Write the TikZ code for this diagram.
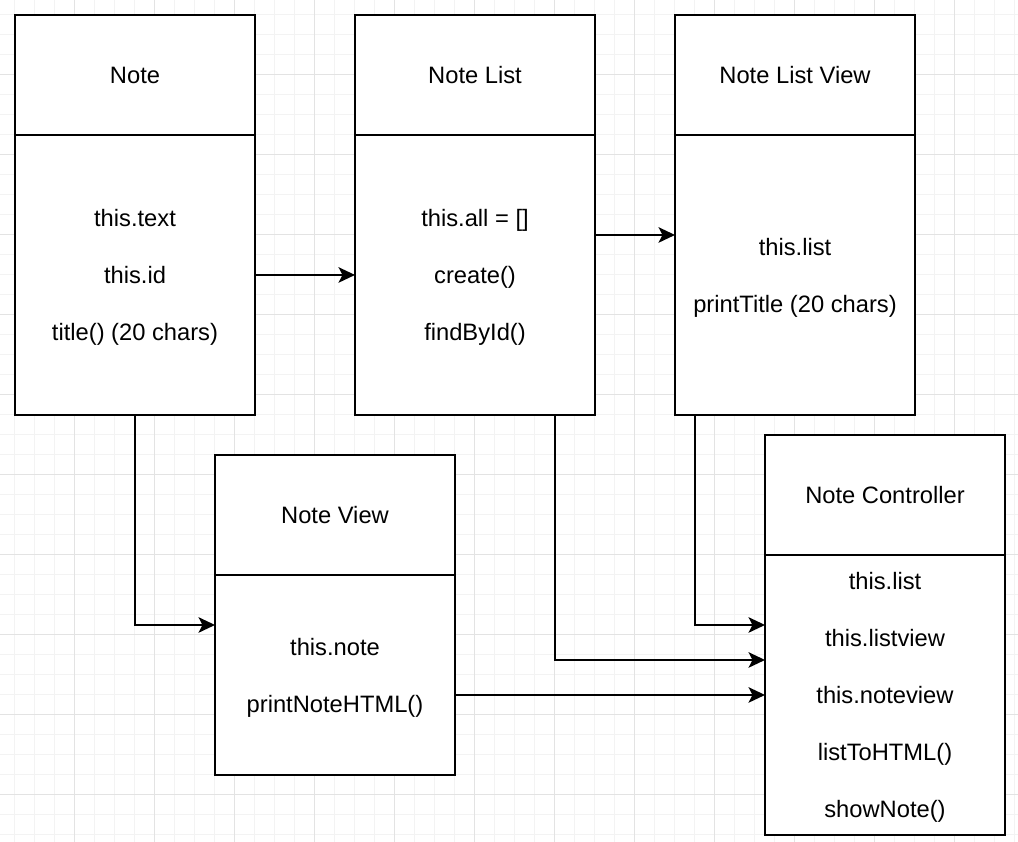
\documentclass[tikz,border=0pt]{standalone}
\usepackage{fontspec}
\setmainfont{Liberation Sans}
\usepackage{xcolor}
\usepackage{tikz}
\usetikzlibrary{arrows.meta,positioning}
\definecolor{ntInk}{HTML}{000000}
\definecolor{ntGridMinor}{HTML}{F3F3F3}
\definecolor{ntGridMajor}{HTML}{E3E3E3}
\tikzset{
  nt diagram/.style={font=\fontsize{13.5}{32.4}\selectfont, text=ntInk,
    line join=miter},
  nt box/.style={draw=ntInk, fill=white, line width=0.04cm, outer sep=0pt,
    minimum width=4.8cm, align=center, inner sep=0pt},
  nt head/.style={nt box, minimum height=2.4cm},
  nt body/.style={nt box, minimum height=#1, text depth=-0.5pt},
  nt body/.default=5.6cm,
  nt arrow/.style={-{Stealth[length=0.33cm,width=0.31cm,inset=0.08cm]},
    draw=ntInk, line width=0.04cm},
  nt grid minor/.style={draw=ntGridMinor, line width=0.02cm},
  nt grid major/.style={draw=ntGridMajor, line width=0.02cm}
}
\begin{document}
\begin{tikzpicture}[nt diagram,x=0.02cm,y=-0.02cm]
\useasboundingbox (0,0) rectangle (1018,842);
% grid
\foreach \g in {14,34,...,1014} {
  \draw[nt grid minor] (\g,0) -- (\g,842);
}
\foreach \g in {14,34,...,834} {
  \draw[nt grid minor] (0,\g) -- (1018,\g);
}
\foreach \g in {74,154,...,1014} \draw[nt grid major] (\g,0) -- (\g,842);
\foreach \g in {74,154,...,834} \draw[nt grid major] (0,\g) -- (1018,\g);

% classes
\node[nt head] (notehead) at (135,75) {Note};
\node[nt body, below=0pt of notehead] (notebody) {this.text\\this.id\\title() (20 chars)};

\node[nt head] (listhead) at (475,75) {Note List};
\node[nt body, below=0pt of listhead] (listbody) {this.all = []\\create()\\findById()};

\node[nt head] (listviewhead) at (795,75) {Note List View};
\node[nt body, below=0pt of listviewhead] (listviewbody) {this.list\\printTitle (20 chars)};

\node[nt head] (viewhead) at (335,515) {Note View};
\node[nt body=4cm, below=0pt of viewhead] (viewbody) {this.note\\printNoteHTML()};

\node[nt head] (ctrlhead) at (885,495) {Note Controller};
\node[nt body, below=0pt of ctrlhead] (ctrlbody) {this.list\\this.listview\\this.noteview\\listToHTML()\\showNote()};

% connectors
\draw[nt arrow] (notebody.east) -- (listbody.west);
\draw[nt arrow] ([yshift=0.8cm]listbody.east) -- ([yshift=0.8cm]listviewbody.west);
\draw[nt arrow] (notebody.south) |- ([yshift=1cm]viewbody.west);
\draw[nt arrow] ([xshift=-0.8cm]listbody.south east) |- ([yshift=0.7cm]ctrlbody.west);
\draw[nt arrow] ([xshift=0.4cm]listviewbody.south west) |- ([yshift=1.4cm]ctrlbody.west);
\draw[nt arrow] (viewbody.east |- ctrlbody.west) -- (ctrlbody.west);
\end{tikzpicture}
\end{document}
